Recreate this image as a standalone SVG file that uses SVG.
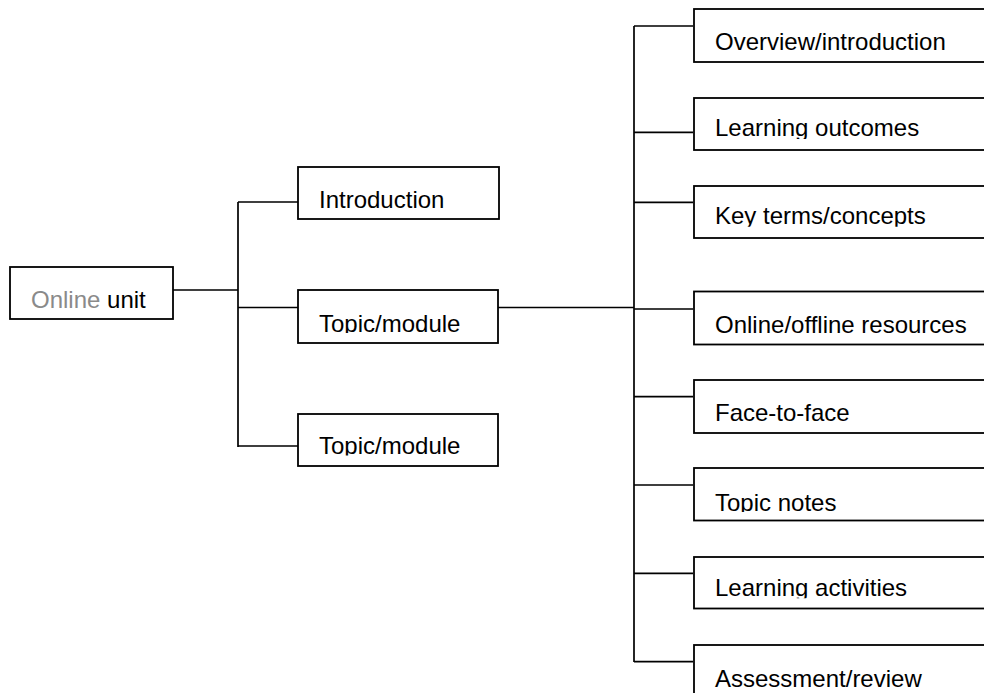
<svg xmlns="http://www.w3.org/2000/svg" width="984" height="693" viewBox="0 0 984 693">
<style>
.box{fill:#fff;stroke:#000;stroke-width:1.8}
.t{font-family:"Liberation Sans",Arial,sans-serif;font-size:24px;fill:#000}
.g{fill:#8a8a8a}
.c{fill:none;stroke:#000;stroke-width:1.7}
</style>
<defs>
<clipPath id="cTopic1"><rect x="298" y="290" width="200" height="43"/></clipPath>
<clipPath id="cTopic2"><rect x="298" y="414" width="200" height="41.5"/></clipPath>
<clipPath id="cOut"><rect x="693" y="98" width="300" height="41"/></clipPath>
<clipPath id="cKey"><rect x="693" y="186" width="300" height="40.7"/></clipPath>
<clipPath id="cNotes"><rect x="693" y="468" width="300" height="44"/></clipPath>
<clipPath id="cAct"><rect x="693" y="557" width="300" height="41.3"/></clipPath>
</defs>
<rect width="984" height="693" fill="#fff"/>
<g id="connectors">
<path class="c" d="M173,290 H238 M238,202 V447 M238,202 H298 M238,307.5 H298 M238,446 H298"/>
<path class="c" d="M498,307.5 H634 M634,26 V662 M634,26 H693 M634,132.3 H693 M634,202.3 H693 M634,309 H693 M634,396.7 H693 M634,485 H693 M634,573.3 H693 M634,661.7 H693"/>
</g>
<g id="online-unit"><rect class="box" x="10" y="267" width="163" height="52"/><text class="t" x="31" y="308"><tspan class="g">Online</tspan> unit</text></g>
<g id="introduction"><rect class="box" x="298" y="167" width="201" height="52"/><text class="t" x="319" y="208">Introduction</text></g>
<g id="topic-module-1"><rect class="box" x="298" y="290" width="200" height="53"/><text class="t" x="319" y="332" clip-path="url(#cTopic1)">Topic/module</text></g>
<g id="topic-module-2"><rect class="box" x="298" y="414" width="200" height="52"/><text class="t" x="319" y="454" clip-path="url(#cTopic2)">Topic/module</text></g>
<g id="overview"><rect class="box" x="694" y="9" width="320" height="53"/><text class="t" x="715" y="50">Overview/introduction</text></g>
<g id="learning-outcomes"><rect class="box" x="694" y="98" width="320" height="52"/><text class="t" x="715" y="136" clip-path="url(#cOut)">Learning outcomes</text></g>
<g id="key-terms"><rect class="box" x="694" y="186" width="320" height="52"/><text class="t" x="715" y="224" clip-path="url(#cKey)">Key terms/concepts</text></g>
<g id="resources"><rect class="box" x="694" y="291.5" width="320" height="53"/><text class="t" x="715" y="333">Online/offline resources</text></g>
<g id="face-to-face"><rect class="box" x="694" y="380" width="320" height="53"/><text class="t" x="715" y="421">Face-to-face</text></g>
<g id="topic-notes"><rect class="box" x="694" y="468" width="320" height="52.5"/><text class="t" x="715" y="510.5" clip-path="url(#cNotes)">Topic notes</text></g>
<g id="learning-activities"><rect class="box" x="694" y="557" width="320" height="51.5"/><text class="t" x="715" y="595.5" clip-path="url(#cAct)">Learning activities</text></g>
<g id="assessment"><rect class="box" x="694" y="645" width="320" height="60"/><text class="t" x="715" y="687">Assessment/review</text></g>
</svg>
